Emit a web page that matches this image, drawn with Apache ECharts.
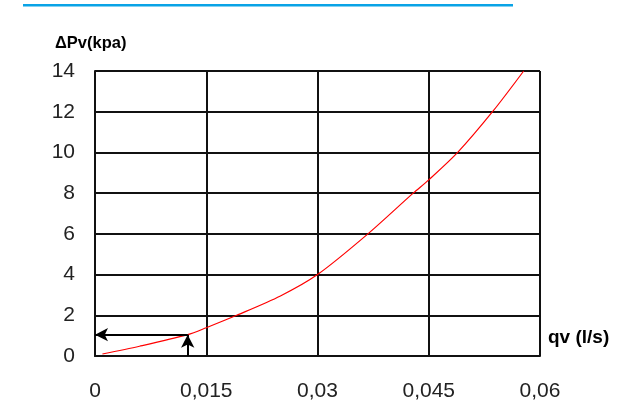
<!DOCTYPE html>
<html>
<head>
<meta charset="utf-8">
<script src="https://cdn.jsdelivr.net/npm/echarts@6/dist/echarts.min.js"></script>
<style>
  html, body { margin: 0; padding: 0; background: #fff; }
  #chart { width: 639px; height: 403px; }
</style>
</head>
<body>
<div id="chart"></div>
<script>
// Pressure drop vs. flow rate curve
const flowRates = [0.001, 0.006, 0.0125, 0.015, 0.0191, 0.025, 0.03, 0.0368, 0.0429, 0.045, 0.0489, 0.0536, 0.0578];
const pressureDrops = [0.1, 0.48, 1.05, 1.39, 2, 2.95, 4, 6, 8, 8.65, 10, 12, 14];
const xTickLabels = ['0', '0,015', '0,03', '0,045', '0,06'];
const yTickLabels = ['0', '2', '4', '6', '8', '10', '12', '14'];
// Reading example: operating point marked with arrows
const readFlow = 0.0125;
const readDrop = 1.05;

const chart = echarts.init(document.getElementById('chart'));
const gridColor = '#111';

chart.setOption({
  animation: false,
  backgroundColor: '#fff',
  grid: { left: 95, right: 99, top: 71, bottom: 47 },
  graphic: [
    {
      type: 'rect',
      shape: { x: 23, y: 4, width: 490, height: 2.5 },
      style: { fill: '#0aa3e6' }
    },
    {
      type: 'text',
      left: 55, top: 35,
      style: { text: 'ΔPv(kpa)', font: 'bold 16.5px "Liberation Sans", Arial', fill: '#000' }
    },
    {
      type: 'text',
      left: 548, top: 328,
      style: { text: 'qv (l/s)', font: 'bold 19px "Liberation Sans", Arial', fill: '#000' }
    }
  ],
  xAxis: {
    type: 'value',
    min: 0, max: 0.06, interval: 0.015,
    axisLine: { show: true, lineStyle: { color: gridColor, width: 2 } },
    axisTick: { show: false },
    splitLine: { show: true, lineStyle: { color: gridColor, width: 2 } },
    axisLabel: {
      margin: 25,
      fontSize: 21,
      color: '#222',
      fontFamily: '"Liberation Sans", Arial',
      formatter: (v, i) => xTickLabels[i]
    }
  },
  yAxis: {
    type: 'value',
    min: 0, max: 14, interval: 2,
    axisLine: { show: true, lineStyle: { color: gridColor, width: 2 } },
    axisTick: { show: false },
    splitLine: { show: true, lineStyle: { color: gridColor, width: 2 } },
    axisLabel: {
      margin: 20,
      fontSize: 21,
      color: '#222',
      fontFamily: '"Liberation Sans", Arial',
      formatter: (v, i) => yTickLabels[i]
    }
  },
  series: [
    {
      type: 'line',
      data: flowRates.map((q, i) => [q, pressureDrops[i]]),
      smooth: 0.3,
      showSymbol: false,
      lineStyle: { color: '#ff0000', width: 1.2 },
      z: 3,
      markLine: {
        silent: true,
        symbol: ['none', 'arrow'],
        symbolSize: [10, 13],
        label: { show: false },
        lineStyle: { color: '#000', width: 2, type: 'solid' },
        data: [
          [{ coord: [readFlow, readDrop] }, { coord: [0, readDrop] }],
          [{ coord: [readFlow, 0] }, { coord: [readFlow, readDrop] }]
        ]
      }
    }
  ]
});
</script>
</body>
</html>
